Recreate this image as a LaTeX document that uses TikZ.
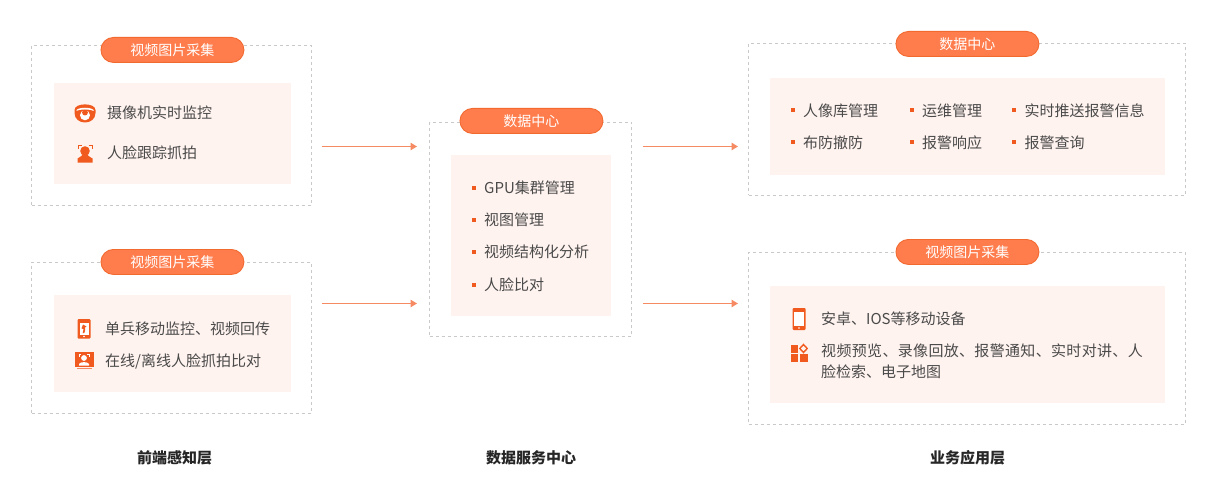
\documentclass[tikz,border=0pt]{standalone}
\usepackage{fontspec}
\setmainfont{Noto Sans CJK SC}
\usetikzlibrary{arrows.meta}
\definecolor{ink}{HTML}{4A4A4A}
\definecolor{accent}{HTML}{F05A1E}
\definecolor{pillfill}{HTML}{FF7D4D}
\definecolor{pillline}{HTML}{F26A30}
\definecolor{panel}{HTML}{FFF3EF}
\definecolor{arrowc}{HTML}{F58A63}
\definecolor{dashc}{HTML}{C9C9C9}
\tikzset{
  outerbox/.style={draw=dashc,line width=0.9pt,dash pattern=on 3pt off 3pt,anchor=north west,inner sep=0pt},
  innerbox/.style={fill=panel,anchor=north west,inner sep=0pt},
  pill/.style={fill=pillfill,draw=pillline,line width=0.9pt,text=white,font=\fontsize{14}{14}\selectfont,anchor=north west,inner sep=0pt,minimum width=143pt,minimum height=25pt,rounded corners=12.5pt},
  item/.style={text=ink,font=\fontsize{15}{21}\selectfont,anchor=west,inner sep=0pt,align=left},
  title/.style={text=black!85,font=\fontsize{15}{15}\selectfont\bfseries,inner sep=0pt},
  bullet/.style={fill=accent,inner sep=0pt,minimum size=4pt},
  flow/.style={draw=arrowc,line width=1.1pt,-{Triangle[length=6.5pt,width=7.5pt]}},
  ic/.style={fill=accent,draw=none},
}
\begin{document}
\begin{tikzpicture}[x=1pt,y=-1pt]
\useasboundingbox (0.5,0) rectangle (1218.5,500);
% outer
\node[outerbox,minimum width=280pt,minimum height=159.5pt] (o1) at (31.7,45) {};
\node[outerbox,minimum width=280pt,minimum height=150.5pt] (o2) at (31.7,262) {};
\node[outerbox,minimum width=202pt,minimum height=214pt] (o3) at (429.7,122) {};
\node[outerbox,minimum width=437pt,minimum height=151.5pt] (o4) at (748.7,43) {};
\node[outerbox,minimum width=437pt,minimum height=171.5pt] (o5) at (748.7,252) {};
% inner
\node[innerbox,minimum width=237pt,minimum height=101pt] (i1) at (54,83) {};
\node[innerbox,minimum width=237pt,minimum height=97pt] (i2) at (54,295) {};
\node[innerbox,minimum width=160pt,minimum height=161pt] (i3) at (451,155) {};
\node[innerbox,minimum width=395pt,minimum height=97pt] (i4) at (770,78) {};
\node[innerbox,minimum width=395pt,minimum height=117pt] (i5) at (770,286) {};
% pills
\node[pill] (p1) at (101,37) {视频图片采集};
\node[pill] (p2) at (101,249) {视频图片采集};
\node[pill] (p3) at (460,108) {数据中心};
\node[pill] (p4) at (896,31) {数据中心};
\node[pill] (p5) at (896,239) {视频图片采集};
% arrows
\coordinate (a1s) at (322.5,146.5); \coordinate (a1e) at (417.5,146.5);
\coordinate (a2s) at (322.5,303.5); \coordinate (a2e) at (417.5,303.5);
\coordinate (a3s) at (643.5,146.5); \coordinate (a3e) at (738.5,146.5);
\coordinate (a4s) at (643.5,303.5); \coordinate (a4e) at (738.5,303.5);
\draw[flow] (a1s) -- (a1e);
\draw[flow] (a2s) -- (a2e);
\draw[flow] (a3s) -- (a3e);
\draw[flow] (a4s) -- (a4e);
% left text
\node[item] (t1) at (107.5,113) {摄像机实时监控};
\node[item] (t2) at (107.5,153) {人脸跟踪抓拍};
\node[item] (t3) at (105.5,329) {单兵移动监控、视频回传};
\node[item] (t4) at (105.5,361) {在线/离线人脸抓拍比对};
% centre
\foreach \n/\y/\s in {c1/188/GPU集群管理,c2/220/视图管理,c3/252/视频结构化分析,c4/285/人脸比对}{
  \node[bullet] (b\n) at (474.5,\y-0.5) {};
  \node[item] (\n) at (484.5,\y) {\s};
}
% right top
\foreach \n/\bx/\y/\s in {r1/793/111/人像库管理,r2/912/111/运维管理,r3/1014.5/111/实时推送报警信息,r4/793/143/布防撤防,r5/912/143/报警响应,r6/1014.5/143/报警查询}{
  \node[bullet] (b\n) at (\bx,\y-0.5) {};
  \node[item] (\n) at (\bx+10.5,\y) {\s};
}
% right bottom
\node[item] (t5) at (821.5,319) {安卓、IOS等移动设备};
\node[item,anchor=north west] (t6) at (821.5,344) {\addfontfeature{LetterSpace=2.2}视频预览、录像回放、报警通知、实时对讲、人\\\addfontfeature{LetterSpace=0}脸检索、电子地图};
% titles
\node[title] (h1) at (175,457.5) {前端感知层};
\node[title] (h2) at (531.5,457.5) {数据服务中心};
\node[title] (h3) at (968,457.5) {业务应用层};
% icon: dome camera
\fill[ic] (75,110) .. controls (75,102.5) and (96,102.5) .. (96,110) -- (96,113) .. controls (96,119) and (91,122.5) .. (85.5,122.5) .. controls (80,122.5) and (75,119) .. (75,113) -- cycle;
\fill[white] (77,110) .. controls (80,107) and (91,107) .. (94,110) -- (94,111) .. controls (91,109) and (80,109) .. (77,111) -- cycle;
\fill[white] (85.5,115.3) circle (5);
\fill[ic] (85.5,112.6) circle (2.9);
% icon: face frame
\draw[accent,line width=1pt] (78.5,149) -- (78.5,145.5) -- (82,145.5);
\draw[accent,line width=1pt] (89,145.5) -- (92.5,145.5) -- (92.5,149);
\fill[ic] (85.5,151) circle (4.8);
\fill[ic] (78,162.5) -- (78,158.5) .. controls (80,157) and (82,156.5) .. (83,155) -- (88,155) .. controls (89,156.5) and (91,157) .. (93,158.5) -- (93,162.5) -- cycle;
% icon: phone small
\fill[ic,rounded corners=1pt] (78,319) rectangle (91,338.5);
\fill[white] (80,323) rectangle (89,334.5);
\fill[ic] (83.5,324.5) -- (87,326.5) -- (85.7,327.3) -- (85.7,330) -- (84.8,333) -- (83.2,333) -- (84,329) -- (82,328.5) -- cycle;
\fill[white] (84.5,336.5) circle (0.8);
% icon: monitor with face
\fill[ic] (75,352) rectangle (94,366.5);
\fill[arrowc] (77,368.3) rectangle (92,369.3);
\fill[white] (84.5,358) circle (2.9);
\fill[white] (79.5,365.5) -- (79.5,364) .. controls (80.5,361.5) and (88.5,361.5) .. (89.5,364) -- (89.5,365.5) -- cycle;
\draw[white,line width=0.5pt] (79.5,356.5) -- (79.5,354.5) -- (81.5,354.5) (87.5,354.5) -- (89.5,354.5) -- (89.5,356.5);
% icon: phone large
\fill[ic,rounded corners=1pt] (793,308) rectangle (806,330);
\fill[white] (794.8,311.5) rectangle (804.2,326);
\fill[white] (799.5,328) circle (0.9);
% icon: app grid
\fill[ic] (791,345) rectangle (798.5,352.5);
\fill[ic] (791,354) rectangle (798.5,361.5);
\fill[ic] (800.5,354) rectangle (808,361.5);
\draw[accent,line width=1.4pt] (804,344.5) -- (807.7,348.5) -- (804,352.5) -- (800.3,348.5) -- cycle;
\end{tikzpicture}
\end{document}
